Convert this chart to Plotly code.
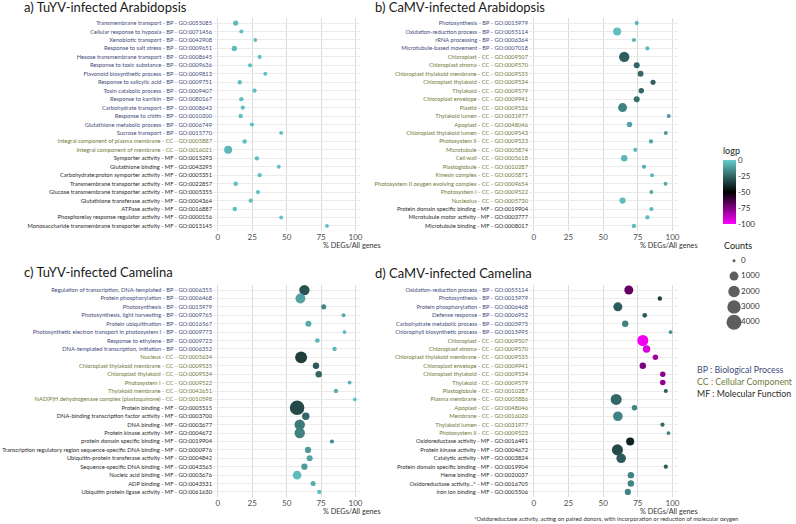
import plotly.graph_objects as go

W, H = 796, 524
FONT = "Lato"

# a) TuYV-infected Arabidopsis
a_terms = [
    "Transmembrane transport - BP - GO:0055085",
    "Cellular response to hypoxia - BP - GO:0071456",
    "Xenobiotic transport - BP - GO:0042908",
    "Response to salt stress - BP - GO:0009651",
    "Hexose transmembrane transport - BP - GO:0008645",
    "Response to toxic substance - BP - GO:0009636",
    "Flavonoid biosynthetic process - BP - GO:0009813",
    "Response to salicylic acid - BP - GO:0009751",
    "Toxin catabolic process - BP - GO:0009407",
    "Response to karrikin - BP - GO:0080167",
    "Carbohydrate transport - BP - GO:0008643",
    "Response to chitin - BP - GO:0010200",
    "Glutathione metabolic process - BP - GO:0006749",
    "Sucrose transport - BP - GO:0015770",
    "Integral component of plasma membrane - CC - GO:0005887",
    "Integral component of membrane - CC - GO:0016021",
    "Symporter activity - MF - GO:0015293",
    "Glutathione binding - MF - GO:0043295",
    "Carbohydrate:proton symporter activity - MF - GO:0005351",
    "Transmembrane transporter activity - MF - GO:0022857",
    "Glucose transmembrane transporter activity - MF - GO:0005355",
    "Glutathione transferase activity - MF - GO:0004364",
    "ATPase activity - MF - GO:0016887",
    "Phosphorelay response regulator activity - MF - GO:0000156",
    "Monosaccharide transmembrane transporter activity - MF - GO:0015145",
]
a_pct = [13.0, 17.1, 27.2, 12.0, 30.4, 23.4, 34.5, 15.9, 26.7, 17.1, 18.1, 16.6, 24.8,
         46.0, 19.5, 7.5, 28.4, 44.3, 30.4, 13.0, 29.2, 23.9, 12.3, 46.0, 79.3]
a_counts = [150, 40, 20, 150, 30, 40, 30, 50, 40, 60, 50, 60, 40,
            20, 60, 700, 50, 20, 40, 60, 40, 50, 60, 20, 20]
a_logp = [-4, -3, -3, -4, -3, -3, -3, -3, -3, -3, -3, -3, -3,
          -3, -3, -5, -3, -3, -3, -3, -3, -3, -3, -3, -3]

# b) CaMV-infected Arabidopsis
b_terms = [
    "Photosynthesis - BP - GO:0015979",
    "Oxidation-reduction process - BP - GO:0055114",
    "rRNA processing - BP - GO:0006364",
    "Microtubule-based movement - BP - GO:0007018",
    "Chloroplast - CC - GO:0009507",
    "Chloroplast stroma - CC - GO:0009570",
    "Chloroplast thylakoid membrane - CC - GO:0009535",
    "Chloroplast thylakoid - CC - GO:0009534",
    "Thylakoid - CC - GO:0009579",
    "Chloroplast envelope - CC - GO:0009941",
    "Plastid - CC - GO:0009536",
    "Thylakoid lumen - CC - GO:0031977",
    "Apoplast - CC - GO:0048046",
    "Chloroplast thylakoid lumen - CC - GO:0009543",
    "Photosystem II - CC - GO:0009523",
    "Microtubule - CC - GO:0005874",
    "Cell wall - CC - GO:0005618",
    "Plastoglobule - CC - GO:0010287",
    "Kinesin complex - CC - GO:0005871",
    "Photosystem II oxygen evolving complex - CC - GO:0009654",
    "Photosystem I - CC - GO:0009522",
    "Nucleolus - CC - GO:0005730",
    "Protein domain specific binding - MF - GO:0019904",
    "Microtubule motor activity - MF - GO:0003777",
    "Microtubule binding - MF - GO:0008017",
]
b_pct = [74.2, 60.1, 72.2, 81.9, 65.2, 74.2, 77.0, 86.0, 77.5, 74.2, 64.0, 97.3, 69.0,
         95.2, 84.5, 73.2, 65.2, 79.5, 85.3, 95.0, 84.8, 64.0, 84.8, 81.9, 72.2]
b_counts = [40, 700, 40, 40, 1500, 250, 230, 120, 170, 250, 1000, 30, 170,
            30, 40, 40, 330, 40, 30, 25, 30, 280, 40, 45, 50]
b_logp = [-6, -3, -5, -4, -27, -25, -25, -27, -25, -23, -18, -12, -10,
          -12, -10, -5, -5, -8, -5, -8, -8, -4, -5, -4, -4]

# c) TuYV-infected Camelina
c_terms = [
    "Regulation of transcription, DNA-templated - BP - GO:0006355",
    "Protein phosphorylation - BP - GO:0006468",
    "Photosynthesis - BP - GO:0015979",
    "Photosynthesis, light harvesting - BP - GO:0009765",
    "Protein ubiquitination - BP - GO:0016567",
    "Photosynthetic electron transport in photosystem I - BP - GO:0009773",
    "Response to ethylene - BP - GO:0009723",
    "DNA-templated transcription, initiation - BP - GO:0006352",
    "Nucleus - CC - GO:0005634",
    "Chloroplast thylakoid membrane - CC - GO:0009535",
    "Chloroplast thylakoid - CC - GO:0009534",
    "Photosystem I - CC - GO:0009522",
    "Thylakoid membrane - CC - GO:0042651",
    "NAD(P)H dehydrogenase complex (plastoquinone) - CC - GO:0010598",
    "Protein binding - MF - GO:0005515",
    "DNA-binding transcription factor activity - MF - GO:0003700",
    "DNA binding - MF - GO:0003677",
    "Protein kinase activity - MF - GO:0004672",
    "protein domain specific binding - MF - GO:0019904",
    "Transcription regulatory region sequence-specific DNA binding - MF - GO:0000976",
    "Ubiquitin-protein transferase activity - MF - GO:0004842",
    "Sequence-specific DNA binding - MF - GO:0043565",
    "Nucleic acid binding - MF - GO:0003676",
    "ADP binding - MF - GO:0043531",
    "Ubiquitin protein ligase activity - MF - GO:0061630",
]
c_pct = [62.9, 60.0, 76.9, 91.3, 65.8, 92.0, 72.3, 84.8, 60.5, 71.3, 73.3, 95.7, 85.8,
         99.5, 57.6, 63.9, 59.5, 59.5, 82.9, 65.5, 66.7, 62.9, 57.6, 69.2, 73.7]
c_counts = [1500, 1300, 120, 30, 250, 20, 80, 50, 2200, 330, 330, 20, 50,
            15, 3700, 550, 1550, 1550, 40, 280, 250, 300, 850, 120, 50]
c_logp = [-30, -10, -17, -8, -8, -5, -5, -5, -35, -28, -25, -7, -7,
          -3, -32, -25, -20, -18, -15, -12, -10, -12, -4, -7, -3]

# d) CaMV-infected Camelina
d_terms = [
    "Oxidation-reduction process - BP - GO:0055114",
    "Photosynthesis - BP - GO:0015979",
    "Protein phosphorylation - BP - GO:0006468",
    "Defense response - BP - GO:0006952",
    "Carbohydrate metabolic process - BP - GO:0005975",
    "Chlorophyll biosynthetic process - BP - GO:0015995",
    "Chloroplast - CC - GO:0009507",
    "Chloroplast stroma - CC - GO:0009570",
    "Chloroplast thylakoid membrane - CC - GO:0009535",
    "Chloroplast envelope - CC - GO:0009941",
    "Chloroplast thylakoid - CC - GO:0009534",
    "Thylakoid - CC - GO:0009579",
    "Plastoglobule - CC - GO:0010287",
    "Plasma membrane - CC - GO:0005886",
    "Apoplast - CC - GO:0048046",
    "Membrane - CC - GO:0016020",
    "Thylakoid lumen - CC - GO:0031977",
    "Photosystem II - CC - GO:0009523",
    "Oxidoreductase activity - MF - GO:0016491",
    "Protein kinase activity - MF - GO:0004672",
    "Catalytic activity - MF - GO:0003824",
    "Protein domain specific binding - MF - GO:0019904",
    "Heme binding - MF - GO:0020037",
    "Oxidoreductase activity...* - MF - GO:0016705",
    "Iron ion binding - MF - GO:0005506",
]
d_pct = [68.5, 90.9, 60.6, 80.0, 65.9, 98.6, 78.6, 81.3, 87.7, 78.6, 93.0, 93.0, 95.2,
         59.4, 72.6, 60.6, 92.8, 97.1, 69.5, 60.3, 63.0, 95.2, 70.0, 70.0, 67.8]
d_counts = [1000, 50, 1000, 80, 330, 20, 1800, 550, 170, 330, 170, 170, 30,
            1800, 170, 1200, 40, 20, 700, 1800, 1200, 45, 330, 330, 280]
d_logp = [-70, -35, -28, -28, -18, -15, -97, -93, -82, -75, -78, -78, -28,
          -25, -18, -18, -25, -18, -42, -32, -28, -28, -18, -18, -18]

pct_ticks = [0, 25, 50, 75, 100]
logp_ticks = [0, -25, -50, -75, -100]
legend_counts = [0, 1000, 2000, 3000, 4000]
ontology_legend = ["BP : Biological Process", "CC : Cellular Component", "MF : Molecular Function"]

LOGP_SCALE = [[0.0, "#FF00FF"], [0.5, "#000000"], [1.0, "#66CCCC"]]
ONT_COLORS = {"BP": "#3F4B7C", "CC": "#6F7A3A", "MF": "#2B2B2B"}


def px(x):
    return x / W


def py(y):
    return 1 - y / H


def dot_size(c):
    # area-like size scale, 0 -> 3px, 4000 -> 15px
    return 3 + 12 * (c / 4000) ** 0.5


def ont_of(term):
    return term.split(" - ")[-2]


def colored(term):
    return f"<span style='color:{ONT_COLORS[ont_of(term)]}'>{term}</span>"


panels = [
    ("a) TuYV-infected Arabidopsis", a_terms, a_pct, a_counts, a_logp, (213, 361), (18, 231), (22, 7)),
    ("b) CaMV-infected Arabidopsis", b_terms, b_pct, b_counts, b_logp, (529, 678), (18, 231), (373, 7)),
    ("c) TuYV-infected Camelina", c_terms, c_pct, c_counts, c_logp, (213, 361), (285, 497), (22, 272)),
    ("d) CaMV-infected Camelina", d_terms, d_pct, d_counts, d_logp, (529, 678), (285, 497), (373, 273)),
]

fig = go.Figure()
annotations = []
layout_axes = {}

for i, (title, terms, pct, counts, logp, (x0, x1), (y0, y1), (tx, ty)) in enumerate(panels, start=1):
    fig.add_trace(go.Scatter(
        x=pct, y=terms, mode="markers",
        marker=dict(size=[dot_size(c) for c in counts], color=logp,
                    coloraxis="coloraxis", line=dict(width=0), opacity=1),
        xaxis=f"x{i}", yaxis=f"y{i}", showlegend=False, cliponaxis=False,
        hovertemplate="%{y}<br>%{x:.1f}%<extra></extra>",
    ))
    layout_axes[f"xaxis{i}"] = dict(
        domain=[px(x0), px(x1)], anchor=f"y{i}", range=[-3.5, 104], automargin=False,
        tickvals=pct_ticks, showgrid=True, gridcolor="#DCDCDC", gridwidth=0.8,
        zeroline=False, showline=False, ticks="", ticklabelstandoff=0,
        tickfont=dict(size=8, color="#4D4D4D", family=FONT),
    )
    layout_axes[f"yaxis{i}"] = dict(
        domain=[py(y1), py(y0)], anchor=f"x{i}", type="category", automargin=False,
        categoryorder="array", categoryarray=terms,
        range=[len(terms) - 0.4, -0.6],
        tickmode="array", tickvals=terms, ticktext=[colored(t) for t in terms],
        showgrid=True, gridcolor="#EBEBEB", gridwidth=0.8,
        zeroline=False, showline=False, ticks="",
        tickfont=dict(size=5.75, family=FONT),
    )
    annotations.append(dict(
        text=title, x=px(tx), y=py(ty), xref="paper", yref="paper",
        xanchor="left", yanchor="middle", showarrow=False,
        font=dict(size=13, color="#1A1A1A", family=FONT),
    ))
    annotations.append(dict(
        text="% DEGs/All genes", x=px(x1 + 22), y=py(y1 + 14), xref="paper", yref="paper",
        xanchor="right", yanchor="middle", showarrow=False,
        font=dict(size=7.3, color="#333333", family=FONT),
    ))

# size legend (Counts)
legend_cats = [str(c) for c in legend_counts]
fig.add_trace(go.Scatter(
    x=[0] * len(legend_counts), y=legend_cats, mode="markers",
    marker=dict(size=[dot_size(c) for c in legend_counts], color="#1A1A1A", line=dict(width=0)),
    xaxis="x5", yaxis="y5", showlegend=False, hoverinfo="skip", cliponaxis=False,
))
fig.add_trace(go.Scatter(
    x=[1] * len(legend_counts), y=legend_cats, mode="text", text=legend_cats,
    textposition="middle right", textfont=dict(size=8, color="#333333", family=FONT),
    xaxis="x5", yaxis="y5", showlegend=False, hoverinfo="skip", cliponaxis=False,
))
layout_axes["xaxis5"] = dict(domain=[px(727), px(741)], anchor="y5", range=[-1, 1],
                             visible=False, automargin=False)
layout_axes["yaxis5"] = dict(domain=[py(330), py(253)], anchor="x5", type="category",
                             categoryarray=legend_cats, range=[len(legend_cats) - 0.5, -0.5],
                             visible=False, automargin=False)

annotations.append(dict(
    text="Counts", x=px(722), y=py(246), xref="paper", yref="paper",
    xanchor="left", yanchor="middle", showarrow=False,
    font=dict(size=9, color="#1A1A1A", family=FONT),
))

for k, txt in enumerate(ontology_legend):
    annotations.append(dict(
        text=txt, x=px(695), y=py(369 + 12 * k), xref="paper", yref="paper",
        xanchor="left", yanchor="middle", showarrow=False,
        font=dict(size=8.8, color=ONT_COLORS[txt[:2]], family=FONT),
    ))

annotations.append(dict(
    text="*Oxidoreductase activity, acting on paired donors, with incorporation or reduction of molecular oxygen",
    x=px(606), y=py(518), xref="paper", yref="paper", xanchor="center", yanchor="middle",
    showarrow=False, font=dict(size=5.9, color="#333333", family=FONT),
))

fig.update_layout(
    width=W, height=H, autosize=False,
    margin=dict(l=0, r=0, t=0, b=0),
    paper_bgcolor="white", plot_bgcolor="white",
    font=dict(family=FONT, color="#333333"),
    annotations=annotations,
    coloraxis=dict(
        colorscale=LOGP_SCALE, cmin=-100, cmax=0,
        colorbar=dict(
            title=dict(text="logp", side="top", font=dict(size=9, color="#1A1A1A", family=FONT)),
            x=px(723), xanchor="left", y=py(184), yanchor="middle",
            len=80, lenmode="pixels", thickness=13, thicknessmode="pixels",
            xpad=0, ypad=0, outlinewidth=0, ticks="",
            tickvals=logp_ticks, ticktext=[str(v) for v in logp_ticks],
            tickfont=dict(size=8, color="#333333", family=FONT),
        ),
    ),
    **layout_axes,
)

# the page body has a default 8px margin; drop it so the figure sits at the window corner
fig.write_html("out.html", config={"displayModeBar": False},
               post_script="document.body.style.margin='0';")
